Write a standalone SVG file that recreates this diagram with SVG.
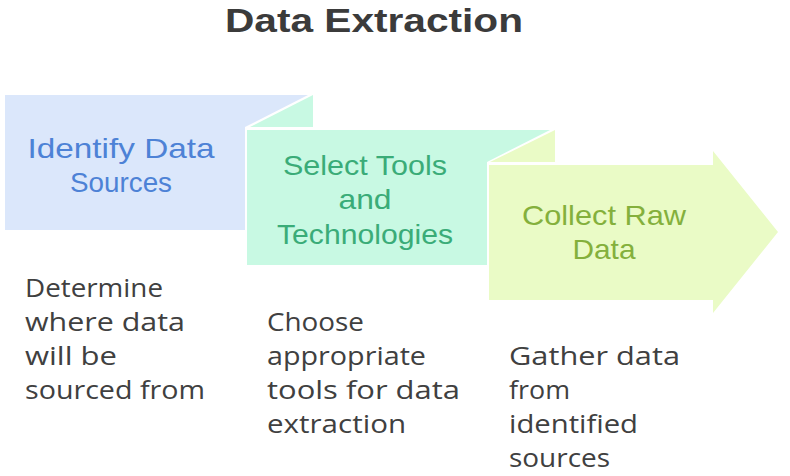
<svg xmlns="http://www.w3.org/2000/svg" width="790" height="476" viewBox="0 0 790 476">
  <style>
    .title { font-family: "Liberation Sans", "Open Sans", sans-serif; font-weight: bold; font-size: 33px; fill: #3b3b3b; }
    .lbl { font-family: "Liberation Sans", "Open Sans", sans-serif; font-size: 28px; text-anchor: middle; }
    .desc { font-family: "Open Sans", "Liberation Sans", sans-serif; font-size: 25px; fill: #404040; }
    .blue { fill: #dbe7fb; }
    .mint { fill: #c8f9e3; }
    .lime { fill: #eafbc6; }
  </style>
  <rect width="790" height="476" fill="#ffffff"/>
  <text class="title" x="374" y="32" text-anchor="middle" textLength="298" lengthAdjust="spacingAndGlyphs">Data Extraction</text>

  <g id="node-identify">
    <polygon class="blue" points="5,95 308,95 245,127 245,230 5,230"/>
    <text class="lbl" fill="#4d82d6" x="121" y="158" textLength="187" lengthAdjust="spacingAndGlyphs">Identify Data</text>
    <text class="lbl" fill="#4d82d6" x="121" y="192" textLength="102" lengthAdjust="spacingAndGlyphs">Sources</text>
    <g class="desc">
      <text x="25" y="297" textLength="138" lengthAdjust="spacingAndGlyphs">Determine</text>
      <text x="25" y="331" textLength="160" lengthAdjust="spacingAndGlyphs">where data</text>
      <text x="25" y="365" textLength="92" lengthAdjust="spacingAndGlyphs">will be</text>
      <text x="25" y="399" textLength="180" lengthAdjust="spacingAndGlyphs">sourced from</text>
    </g>
  </g>

  <g id="node-select">
    <polygon class="mint" points="250,127 313,95 313,127"/>
    <polygon class="mint" points="247,130 550,130 487,162 487,265 247,265"/>
    <text class="lbl" fill="#3aac78" x="365" y="175" textLength="164" lengthAdjust="spacingAndGlyphs">Select Tools</text>
    <text class="lbl" fill="#3aac78" x="365" y="209" textLength="53" lengthAdjust="spacingAndGlyphs">and</text>
    <text class="lbl" fill="#3aac78" x="365" y="244" textLength="176" lengthAdjust="spacingAndGlyphs">Technologies</text>
    <g class="desc">
      <text x="267" y="331" textLength="97" lengthAdjust="spacingAndGlyphs">Choose</text>
      <text x="267" y="365" textLength="159" lengthAdjust="spacingAndGlyphs">appropriate</text>
      <text x="267" y="399" textLength="193" lengthAdjust="spacingAndGlyphs">tools for data</text>
      <text x="267" y="433" textLength="139" lengthAdjust="spacingAndGlyphs">extraction</text>
    </g>
  </g>

  <g id="node-collect">
    <polygon class="lime" points="490,162 555,130 555,162"/>
    <polygon class="lime" points="489,165 713,165 713,151 778,232 713,313 713,300 489,300"/>
    <text class="lbl" fill="#84b03c" x="604" y="225" textLength="164" lengthAdjust="spacingAndGlyphs">Collect Raw</text>
    <text class="lbl" fill="#84b03c" x="604" y="259" textLength="63" lengthAdjust="spacingAndGlyphs">Data</text>
    <g class="desc">
      <text x="509" y="365" textLength="171" lengthAdjust="spacingAndGlyphs">Gather data</text>
      <text x="509" y="399" textLength="61" lengthAdjust="spacingAndGlyphs">from</text>
      <text x="509" y="433" textLength="129" lengthAdjust="spacingAndGlyphs">identified</text>
      <text x="509" y="467" textLength="101" lengthAdjust="spacingAndGlyphs">sources</text>
    </g>
  </g>

  <g id="connectors"></g>
</svg>
